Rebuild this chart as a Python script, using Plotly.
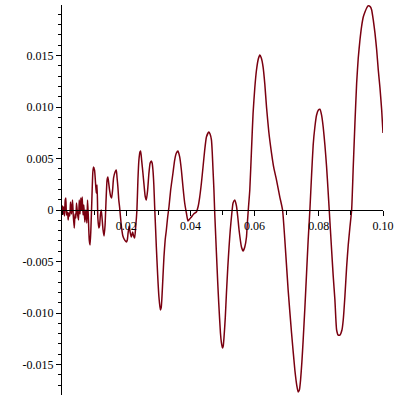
import plotly.graph_objects as go

# x values (units of 1e-3), y values (units of 1e-3)
x_milli = [0.0, 0.16, 0.37, 0.56, 0.78, 1.0, 1.19, 1.4, 1.72, 1.93, 2.12, 2.43, 2.65, 2.96, 3.28, 3.5, 3.81,
           4.06, 4.31, 4.52, 4.84, 5.15, 5.37, 5.62, 5.87, 6.08, 6.3, 6.55, 6.8, 7.11, 7.43, 7.74, 7.96, 8.18,
           8.49, 8.74, 8.99, 9.3, 9.61, 9.83, 10.14, 10.45, 10.67, 10.92, 11.17, 11.48, 11.7, 11.95, 12.23,
           12.48, 12.79, 13.1, 13.42, 13.73, 14.04, 14.29, 14.51, 14.82, 15.13, 15.45, 15.76, 16.07, 16.54,
           16.91, 17.16, 17.41, 17.69, 17.94, 18.25, 18.57, 18.97, 19.5, 20.03, 20.34, 20.59, 20.91, 21.22,
           21.59, 22.0, 22.31, 22.62, 22.93, 23.34, 23.65, 23.96, 24.28, 24.49, 24.81, 25.21, 25.59, 25.9,
           26.27, 26.68, 27.08, 27.46, 27.83, 28.08, 28.33, 28.61, 28.86, 29.17, 29.39, 29.8, 30.2, 30.64,
           30.89, 31.14, 31.45, 31.76, 32.14, 32.51, 32.92, 33.32, 33.85, 34.57, 35.1, 35.63, 36.13, 36.66,
           37.19, 37.69, 38.22, 38.75, 39.25, 39.78, 40.31, 41.03, 41.87, 42.37, 42.9, 43.43, 43.93, 44.46,
           44.99, 45.71, 46.12, 46.55, 46.8, 47.05, 47.33, 47.58, 48.11, 48.52, 48.83, 49.36, 49.67, 49.98,
           50.23, 50.48, 50.86, 51.23, 51.64, 52.04, 52.42, 52.79, 53.29, 53.82, 54.35, 54.76, 55.16, 55.91,
           56.41, 56.94, 57.47, 57.66, 58.03, 58.5, 59.03, 59.53, 60.06, 60.59, 61.15, 61.62, 62.09, 62.65,
           63.18, 63.71, 64.43, 65.27, 65.99, 66.83, 67.86, 68.71, 69.42, 70.45, 71.51, 72.54, 73.17, 73.57,
           73.95, 74.32, 74.73, 75.13, 75.66, 76.19, 76.69, 77.22, 77.75, 78.25, 78.78, 79.31, 79.88, 80.34,
           80.87, 81.37, 81.9, 82.43, 82.84, 83.25, 83.99, 84.49, 85.02, 85.55, 86.05, 86.58, 87.21, 87.61,
           88.14, 88.67, 89.17, 89.7, 90.23, 90.73, 91.26, 91.79, 92.29, 92.82, 93.35, 93.85, 94.38, 94.91,
           95.32, 95.73, 96.1, 96.47, 96.97, 97.5, 98.03, 98.53, 99.06, 99.59, 100.0]
y_milli = [0.0, 0.39, -0.39, 0.29, -0.58, 0.97, 1.17, -0.49, -0.19, -0.97, -0.29, -0.58, 0.78, -0.39, 0.97, -0.49,
           -1.75, -0.39, -0.78, 0.68, -0.39, -0.97, 0.97, -0.39, 1.17, 0.0, 1.26, -0.49, 0.49, -1.17, 0.0,
           -1.26, 0.97, -0.49, -2.91, -3.4, -1.94, 0.97, 3.69, 4.17, 3.88, 2.62, 1.65, 2.43, -0.78, -1.75,
           -1.55, -0.49, 0.0, -0.78, -1.94, -2.52, -1.46, 0.97, 2.91, 3.2, 2.72, 1.94, 1.36, 1.17, 1.94, 3.11,
           3.69, 3.88, 3.11, 2.23, 0.97, 0.29, -0.78, -1.75, -2.52, -2.91, -3.11, -2.91, -2.23, -1.55, -2.14,
           -2.62, -2.14, -2.52, -2.72, -1.75, 0.0, 2.91, 4.85, 5.63, 5.73, 4.85, 3.59, 2.33, 1.36, 0.97, 1.94,
           3.59, 4.56, 4.76, 4.56, 3.88, 2.43, 0.39, -1.94, -3.59, -6.31, -8.45, -9.71, -9.51, -8.45, -6.5,
           -4.56, -2.91, -1.94, -0.68, 0.29, 1.94, 3.59, 4.85, 5.53, 5.73, 5.15, 3.88, 2.23, 0.68, -0.29,
           -1.07, -0.87, -0.68, -0.39, -0.19, 0.29, 1.26, 2.62, 4.17, 5.83, 7.09, 7.57, 7.38, 6.8, 5.63, 3.88,
           1.94, -0.29, -4.17, -7.09, -9.03, -11.94, -12.91, -13.4, -13.2, -12.33, -10.49, -8.06, -5.63,
           -3.59, -1.94, -0.68, 0.68, 0.97, 0.39, -0.68, -1.94, -3.59, -3.98, -3.59, -2.62, -1.65, 0.0, 1.94,
           5.83, 9.42, 11.84, 13.59, 14.66, 15.05, 14.76, 13.88, 12.23, 10.0, 7.57, 5.53, 4.08, 2.91, 1.26,
           0.0, -2.91, -7.77, -11.94, -15.53, -17.09, -17.67, -17.48, -16.5, -14.76, -12.62, -9.51, -6.12,
           -2.91, 0.0, 3.4, 6.31, 8.06, 9.22, 9.71, 9.78, 9.22, 8.06, 6.31, 4.17, 2.14, 0.0, -3.88, -6.41,
           -8.74, -11.65, -12.14, -12.14, -11.65, -10.68, -8.35, -5.53, -3.4, -1.65, 0.0, 4.17, 8.45, 12.33,
           14.76, 16.5, 17.86, 18.74, 19.22, 19.61, 19.81, 19.81, 19.71, 19.42, 18.45, 17.18, 15.53, 13.59,
           11.84, 9.71, 7.48]

x_vals = [v / 1000 for v in x_milli]
y_vals = [v / 1000 for v in y_milli]

x_ticks = [0.02, 0.04, 0.06, 0.08, 0.10]
x_tick_text = ["0.02", "0.04", "0.06", "0.08", "0.10"]
y_ticks = [-0.015, -0.010, -0.005, 0, 0.005, 0.010, 0.015]
y_tick_text = ["-0.015", "-0.010", "-0.005", "0", "0.005", "0.010", "0.015"]

y_lo, y_hi = -0.017961, 0.019903
zero_frac = (0 - y_lo) / (y_hi - y_lo)

fig = go.Figure()
fig.add_trace(go.Scatter(x=x_vals, y=y_vals, mode="lines",
                         line=dict(color="#7a0010", width=1.5, shape="spline", smoothing=0.5),
                         hoverinfo="skip", showlegend=False))

font = dict(family="Liberation Serif, Times New Roman, serif", size=12, color="black")

fig.update_layout(
    width=400, height=400,
    margin=dict(l=62, r=17, t=5, b=5),
    paper_bgcolor="white", plot_bgcolor="white",
    showlegend=False,
    xaxis=dict(range=[0, 0.1], showgrid=False, zeroline=False, automargin=False,
               showline=True, linecolor="black", linewidth=1,
               anchor="free", position=zero_frac,
               tickvals=x_ticks, ticktext=x_tick_text,
               ticks="outside", ticklen=5, tickcolor="black", tickwidth=1,
               minor=dict(dtick=0.01, tick0=0, ticks="outside", ticklen=4, tickcolor="black"),
               tickfont=font),
    yaxis=dict(range=[y_lo, y_hi], showgrid=False, zeroline=False, automargin=False,
               showline=True, linecolor="black", linewidth=1,
               tickvals=y_ticks, ticktext=y_tick_text,
               ticks="outside", ticklen=5, tickcolor="black", tickwidth=1,
               minor=dict(dtick=0.001, tick0=0, ticks="outside", ticklen=3, tickcolor="black"),
               tickfont=font),
)

fig.write_html("out.html", config={"displayModeBar": False},
               post_script="document.body.style.margin='0';document.body.style.padding='0';")
